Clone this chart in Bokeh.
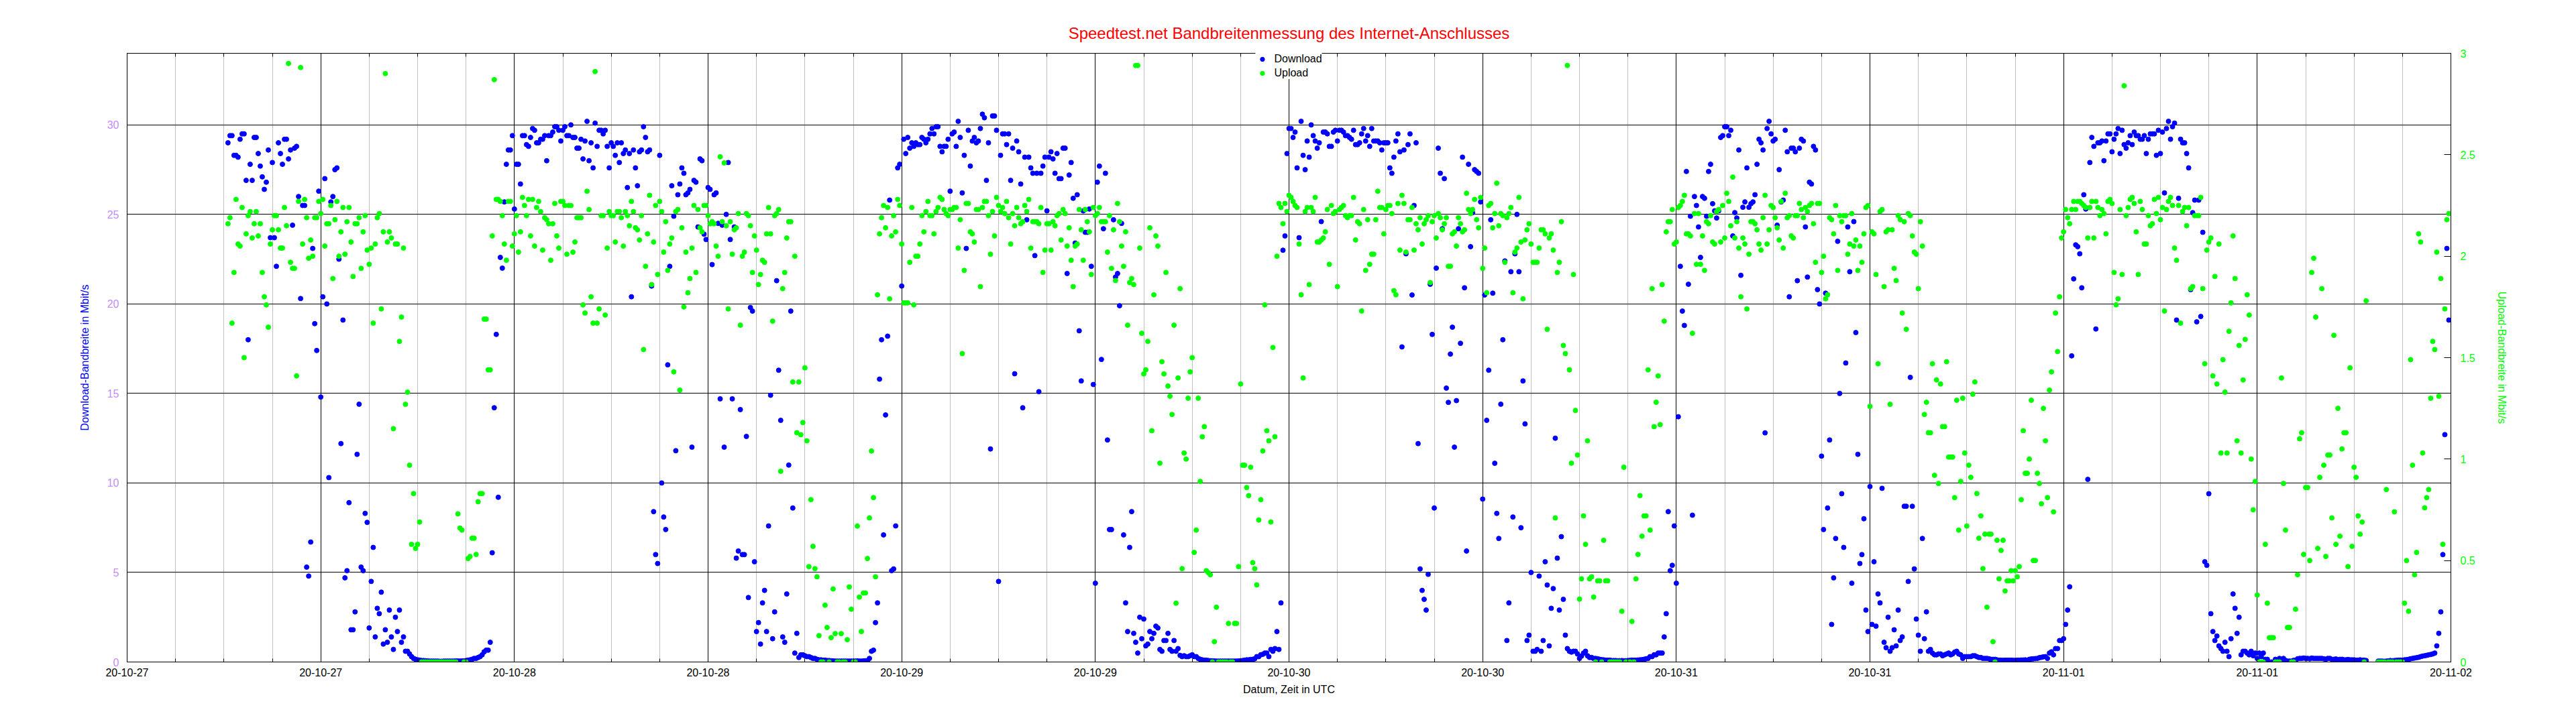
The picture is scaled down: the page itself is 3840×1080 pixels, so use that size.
import numpy as np
import pandas as pd
from datetime import datetime, timedelta
from bokeh.plotting import figure
from bokeh.models import (ColumnDataSource, Range1d, LinearAxis, DatetimeAxis, FixedTicker,
                          DatetimeTickFormatter, CustomJSTickFormatter)
from bokeh.embed import file_html
from bokeh.resources import INLINE

nan = float("nan")

TITLE = "Speedtest.net Bandbreitenmessung des Internet-Anschlusses"
X_LABEL = "Datum, Zeit in UTC"
Y_LABEL = "Download-Bandbreite in Mbit/s"
Y2_LABEL = "Upload-Bandbreite in Mbit/s"
SERIES = ["Download", "Upload"]
FIRST_SAMPLE = "2020-10-27 06:15:00"     # samples on the quarter hour
FIRST_SAMPLE_B = "2020-10-27 06:22:30"   # samples in between
SAMPLE_STEP = "15min"
X_START = datetime(2020, 10, 27)
X_END = datetime(2020, 11, 2)
Y_MAX = 34
Y2_MAX = 3
Y_TICKS = [0, 5, 10, 15, 20, 25, 30]
Y2_TICKS = [0, 0.5, 1, 1.5, 2, 2.5, 3]

# Download in Mbit/s, one row per hour (quarter-hour samples)
download = [
    29.0, 29.4, 28.3,
    29.2, 29.5, 18.0, 26.9,
    29.3, 27.7, 26.4, 28.6,
    27.9, 22.1, 28.4, 29.2,
    28.1, 24.4, 28.8, 20.3,
    25.5, 4.8, 23.1, 17.4,
    14.8, 27.0, 10.3, 26.0,
    27.6, 12.2, 4.7, 8.9,
    1.8, 11.6, 5.3, 8.3,
    1.9, 6.4, 3.0, 3.9,
    1.8, 2.9, 0.7, 1.7,
    1.1, 0.6, 0.45, 0.2,
    0.12, 0.08, 0.07, 0.05,
    0.05, 0.05, 0.04, 0.05,
    0.05, 0.05, 0.06, 0.06,
    0.08, 0.12, 0.2, 0.25,
    0.4, 0.66, 1.1, 14.2,
    9.2, 22.0, 27.8, 28.6,
    25.3, 27.8, 29.4, 28.9,
    29.3, 29.7, 29.0, 29.2,
    28.0, 29.4, 29.9, 29.7,
    29.7, 29.4, 30.0, 29.3,
    28.7, 28.1, 30.2, 29.0,
    30.1, 29.7, 29.5, 28.8,
    29.0, 28.3, 27.9, 28.4,
    26.5, 20.4, 27.6, 28.5,
    29.9, 28.5, 21.0, 6.0,
    28.3, 8.1, 16.6, 26.6,
    11.8, 26.7, 27.3, 26.2,
    12.0, 26.8, 28.1, 23.9,
    26.5, 22.2, 26.2, 14.7,
    12.0, 27.9, 14.7, 5.8,
    14.1, 6.0, 3.6, 19.6,
    1.7, 1.0, 4.0, 7.6,
    1.3, 21.3, 13.5, 1.1,
    11.0, 8.6, 1.6, 0.4,
    0.35, 0.3, 0.2, 0.15,
    0.12, 0.1, 0.08, 0.06,
    0.05, 0.05, 0.05, 0.05,
    0.05, 0.06, 0.05, 0.07,
    0.2, 0.66, 3.3, 18.0,
    13.8, 25.8, 5.2, 27.6,
    21.0, 28.4, 28.7, 28.8,
    28.9, 29.3, 29.0, 29.5,
    29.5, 29.9, 28.5, 28.8,
    26.3, 29.6, 30.2, 26.2,
    23.1, 27.7, 29.3, 29.1,
    30.6, 26.9, 11.9, 30.5,
    4.5, 29.5, 28.9, 26.9,
    16.1, 28.5, 14.2, 24.7,
    27.6, 22.7, 15.1, 27.7,
    25.2, 28.5, 27.3, 27.0,
    28.7, 21.7, 27.9, 23.4,
    18.5, 25.2, 24.0, 22.1,
    4.4, 27.7, 24.2, 12.4,
    7.4, 21.5, 19.9, 7.1,
    1.7, 8.4, 1.1, 2.5,
    2.4, 1.0, 1.3, 2.0,
    0.7, 1.2, 1.6, 0.6,
    0.6, 0.37, 0.35, 0.3,
    0.4, 0.3, 0.15, 0.1,
    0.08, 0.06, 0.05, 0.05,
    0.05, 0.05, 0.05, 0.05,
    0.07, 0.1, 0.12, 0.15,
    0.3, 0.4, 0.5, 0.3,
    0.6, 1.7, 3.3, 23.8,
    29.8, 29.3, 27.6, 30.2,
    27.5, 28.2, 29.4, 28.7,
    24.6, 29.6, 28.8, 29.6,
    29.1, 29.7, 29.4, 29.3,
    29.7, 28.9, 29.5, 29.1,
    28.8, 29.1, 29.1, 28.6,
    29.0, 27.6, 28.2, 29.5,
    17.6, 22.8, 29.5, 25.5,
    12.2, 4.0, 2.9, 21.1,
    8.6, 28.7, 24.2, 15.3,
    17.2, 12.0, 24.2, 28.2,
    6.2, 23.2, 27.5, 27.3,
    9.1, 13.5, 24.7, 11.1,
    6.9, 18.0, 1.2, 21.8,
    22.8, 21.8, 15.7, 1.2,
    5.0, 0.6, 4.8, 1.2,
    4.3, 3.0, 12.5, 2.9,
    3.5, 0.75, 0.55, 0.6,
    0.2, 0.5, 0.35, 0.25,
    0.2, 0.15, 0.12, 0.1,
    0.08, 0.08, 0.07, 0.07,
    0.08, 0.1, 0.1, 0.12,
    0.15, 0.2, 0.3, 0.4,
    0.5, 1.4, 8.4, 5.4,
    4.4, 22.1, 18.8, 21.1,
    8.2, 25.5, 22.6, 25.9,
    27.4, 25.6, 24.8, 29.3,
    29.9, 29.4, 23.8, 24.8,
    21.6, 25.7, 25.4, 25.7,
    27.8, 29.0, 12.8, 30.2,
    29.1, 24.4, 25.7, 29.7,
    20.4, 28.7, 21.3, 29.2,
    24.3, 26.8, 28.8, 20.8,
    11.5, 20.6, 12.4, 4.7,
    23.5, 9.4, 16.7, 21.8,
    24.6, 11.6, 6.0, 2.9,
    9.8, 5.6, 3.8, 9.7,
    0.8, 0.6, 1.8, 2.9,
    1.4, 8.7, 15.9, 5.2,
    1.5, 6.9, 2.8, 0.7,
    0.4, 0.45, 0.35, 0.45,
    0.4, 0.55, 0.45, 0.2,
    0.3, 0.3, 0.35, 0.25,
    0.2, 0.2, 0.15, 0.15,
    0.1, 0.09, 0.1, 0.1,
    0.09, 0.1, 0.11, 0.1,
    0.17, 0.19, 0.24, 0.29,
    0.2, 0.57, 0.75, 1.2,
    1.3, 2.9, 17.1, 23.3,
    22.8, 26.1, 10.2, 29.3,
    18.6, 29.0, 28.0, 29.5,
    28.5, 29.5, 28.4, 28.9,
    29.0, 28.9, 29.4, 29.2,
    29.4, 29.2, 29.5, 28.3,
    28.4, 26.2, 30.2, 29.9,
    19.1, 29.2, 29.0, 27.6,
    25.1, 19.0, 19.3, 5.6,
    9.4, 1.7, 1.45, 0.75,
    1.1, 0.3, 3.8, 1.6,
    0.4, 0.6, 0.4, 0.35,
    0.2, 0.3, 0.15, 0.0,
    0.0, 0.1, 0.13, 0.09,
    0.05, 0.09, 0.18, 0.2,
    0.2, 0.18, 0.2, 0.2,
    0.2, 0.15, 0.2, 0.15,
    0.12, 0.15, 0.12, 0.12,
    0.12, 0.1, 0.1, 0.08,
    nan, nan, 0.05, 0.05,
    0.05, 0.08, 0.08, 0.1,
    0.1, 0.13, 0.18, 0.22,
    0.26, 0.33, 0.37, 0.42,
    0.5, 1.6, 6.0, 23.1,
]

# Download in Mbit/s, samples between the quarter hours
download_between = [
    29.4, 28.3, 28.2,
    29.5, 26.9, 27.8, 29.3,
    28.4, 27.1, 26.8, 23.7,
    23.7, 29.0, 27.8, 29.2,
    28.6, 28.7, 26.0, 25.5,
    5.3, 6.7, 18.9, 26.3,
    20.4, 20.0, 25.7, 27.5,
    22.5, 19.1, 5.1, 1.8,
    2.8, 14.4, 5.1, 7.8,
    4.5, 1.4, 2.7, 1.0,
    1.1, 1.4, 2.5, 2.9,
    1.4, 0.6, 0.3, 0.15,
    0.1, 0.08, 0.06, 0.05,
    0.05, 0.04, 0.05, 0.05,
    0.05, 0.06, 0.05, 0.06,
    0.1, 0.15, 0.2, 0.3,
    0.57, 0.66, 6.1, 18.3,
    22.6, 25.7, 28.6, 29.4,
    27.8, 26.7, 29.4, 28.8,
    29.8, 29.0, 29.2, 29.4,
    29.4, 29.6, 29.9, 29.1,
    29.9, 29.4, 29.3, 28.7,
    29.2, 29.1, 28.0, 27.6,
    28.8, 29.7, 29.7, 27.6,
    28.8, 29.0, 29.0, 28.6,
    28.4, 28.6, 26.6, 28.6,
    29.3, 28.6, 8.4, 5.5,
    10.0, 7.4, 22.1, 24.9,
    26.1, 27.6, 26.1, 26.4,
    26.9, 24.3, 28.0, 23.6,
    26.4, 26.1, 24.5, 24.4,
    25.0, 23.6, 24.3, 6.2,
    6.0, 12.6, 19.8, 5.6,
    2.2, 3.3, 1.7, 14.9,
    2.8, 16.3, 1.4, 3.8,
    19.6, 0.5, 0.25, 0.4,
    0.3, 0.25, 0.2, 0.12,
    0.1, 0.08, 0.07, 0.05,
    0.05, 0.05, 0.05, 0.05,
    0.05, 0.05, 0.06, 0.07,
    0.6, 2.2, 15.8, 7.1,
    18.2, 5.1, 7.6, 27.8,
    29.2, 29.3, 29.0, 29.0,
    28.9, 29.2, 29.2, 29.8,
    29.9, 28.8, 28.8, 29.2,
    29.5, 28.8, 29.3, 28.3,
    29.7, 29.1, 29.0, 29.8,
    30.4, 29.0, 30.5, 29.7,
    28.3, 29.5, 29.5, 28.7,
    29.1, 26.7, 28.2, 28.2,
    27.3, 27.3, 27.3, 28.2,
    28.2, 28.1, 28.4, 27.0,
    28.7, 27.2, 25.9, 26.1,
    15.7, 24.0, 25.3, 15.5,
    26.8, 16.9, 27.3, 7.4,
    24.7, 21.7, 24.5, 3.3,
    6.4, 1.6, 0.5, 1.3,
    0.9, 1.7, 1.6, 1.9,
    0.6, 1.2, 0.7, 1.2,
    0.75, 0.3, 0.3, 0.35,
    0.3, 0.2, 0.12, 0.1,
    0.07, 0.06, 0.05, 0.05,
    0.05, 0.05, 0.05, 0.06,
    0.08, 0.12, 0.14, 0.18,
    0.3, 0.43, 0.5, 0.7,
    0.75, 0.7, 23.0, 28.4,
    29.8, 29.6, 23.7, 28.3,
    29.1, 30.0, 29.1, 29.0,
    29.6, 29.5, 28.8, 29.7,
    29.7, 29.6, 29.4, 29.2,
    28.9, 29.0, 29.8, 29.4,
    29.8, 29.1, 29.0, 29.0,
    29.0, 27.3, 29.1, 28.5,
    28.6, 28.9, 20.5, 29.0,
    5.2, 3.5, 4.9, 18.3,
    22.0, 27.3, 27.0, 14.5,
    18.7, 14.6, 17.8, 20.9,
    27.8, 25.1, 27.4, 25.7,
    20.5, 16.3, 20.6, 8.3,
    14.4, 22.4, 3.3, 8.1,
    25.0, 7.5, 13.3, 1.5,
    0.6, 0.7, 0.6, 5.6,
    0.9, 4.1, 5.8, 7.0,
    1.5, 0.6, 0.6, 0.45,
    0.33, 0.6, 0.25, 0.2,
    0.18, 0.13, 0.1, 0.1,
    0.08, 0.07, 0.08, 0.07,
    0.09, 0.1, 0.11, 0.13,
    0.18, 0.3, 0.4, 0.5,
    0.5, 2.7, 5.1, 7.6,
    13.7, 19.6, 27.4, 24.9,
    26.0, 24.3, 26.0, 24.9,
    27.8, 25.2, 25.2, 29.4,
    29.9, 29.7, 25.1, 28.6,
    25.4, 27.6, 25.6, 26.1,
    29.2, 28.6, 29.8, 29.5,
    29.2, 27.5, 25.8, 28.5,
    28.7, 28.5, 28.7, 29.1,
    21.5, 26.7, 28.6, 20.0,
    7.4, 8.6, 2.1, 6.9,
    15.0, 6.4, 24.3, 4.4,
    18.4, 5.5, 8.0, 1.7,
    2.1, 2.0, 3.3, 1.1,
    2.5, 0.8, 0.9, 1.2,
    8.7, 4.5, 8.7, 2.4,
    0.6, 1.3, 0.6, 0.5,
    0.4, 0.45, 0.4, 0.5,
    0.45, 0.6, 0.4, 0.3,
    0.3, 0.35, 0.3, 0.25,
    0.2, 0.18, 0.15, 0.12,
    0.1, 0.1, 0.1, 0.09,
    0.1, 0.11, 0.12, 0.15,
    0.18, 0.2, 0.26, 0.3,
    0.5, 0.4, 0.75, 1.2,
    2.1, 4.2, 21.4, 23.2,
    20.9, 25.3, 27.9, 28.8,
    29.0, 29.1, 29.1, 29.5,
    29.2, 29.8, 29.7, 28.7,
    29.4, 29.6, 29.4, 29.2,
    28.4, 29.5, 29.5, 29.7,
    29.6, 29.8, 29.2, 30.1,
    25.9, 29.0, 28.4, 20.8,
    25.8, 25.8, 24.0, 5.4,
    2.7, 1.2, 0.9, 0.6,
    0.6, 1.3, 3.0, 2.5,
    0.6, 0.5, 0.6, 0.5,
    0.5, 0.5, 0.15, 0.0,
    0.15, 0.2, 0.2, 0.05,
    0.05, 0.1, 0.2, 0.22,
    0.2, 0.22, 0.2, 0.2,
    0.18, 0.2, 0.15, 0.17,
    0.15, 0.12, 0.14, 0.12,
    0.1, 0.12, 0.1, nan,
    nan, nan, 0.05, 0.04,
    0.06, 0.07, 0.09, 0.1,
    0.12, 0.15, 0.2, 0.24,
    0.3, 0.35, 0.4, 0.45,
    0.9, 2.8, 12.7, 19.1,
]

# Upload in Mbit/s, quarter-hour samples
upload = [
    2.16, 1.67, 2.28,
    2.05, 1.50, 2.20, 2.09,
    2.22, 2.16, 1.80, 1.65,
    2.13, 2.20, 2.04, 2.24,
    2.95, 1.94, 1.41, 2.93,
    2.28, 1.99, 2.00, 2.19,
    2.21, 2.05, 2.16, 1.89,
    2.27, 2.12, 2.01, 2.24,
    1.90, 2.16, 1.94, 2.20,
    1.96, 1.67, 2.19, 1.74,
    2.90, 2.12, 1.15, 2.06,
    1.70, 1.27, 0.97, 0.83,
    0.58, 0.0, 0.0, 0.0,
    0.0, 0.0, 0.0, 0.0,
    0.0, 0.0, 0.73, 0.65,
    0.0, 0.52, 0.61, 0.79,
    0.83, 1.69, 1.44, 2.87,
    2.28, 2.20, 1.98, 2.27,
    2.11, 2.02, 2.29, 2.20,
    2.10, 2.05, 2.27, 2.03,
    2.18, 1.98, 2.26, 2.04,
    2.27, 2.01, 2.25, 2.07,
    2.19, 1.76, 2.32, 1.80,
    2.91, 1.74, 2.20, 2.04,
    2.20, 2.07, 2.22, 2.05,
    2.20, 2.27, 2.14, 2.08,
    1.54, 2.11, 1.86, 2.25,
    2.27, 2.02, 1.93, 2.09,
    2.22, 1.34, 1.75, 1.82,
    2.04, 1.92, 2.14, 2.25,
    2.20, 2.17, 2.05, 2.49,
    2.46, 1.74, 2.01, 2.14,
    1.66, 2.02, 2.20, 1.92,
    2.03, 1.91, 1.97, 2.24,
    1.68, 2.21, 0.94, 1.92,
    2.17, 1.38, 1.13, 1.12,
    1.45, 0.47, 0.57, 0.42,
    0.0, 0.28, 0.0, 0.36,
    0.0, 0.14, 0.0, 0.37,
    0.0, 0.67, 0.15, 0.34,
    0.71, 0.81, 1.81, 2.19,
    2.14, 1.79, 2.20, 2.28,
    2.06, 1.77, 1.97, 1.76,
    2.00, 2.20, 2.22, 2.20,
    2.11, 2.24, 2.28, 2.21,
    2.23, 2.24, 2.04, 1.52,
    2.26, 2.12, 2.07, 2.23,
    2.24, 2.27, 2.01, 2.10,
    2.25, 2.24, 2.27, 2.06,
    2.15, 2.19, 2.17, 2.22,
    2.04, 2.17, 2.16, 1.92,
    2.16, 2.03, 2.15, 2.21,
    2.23, 2.05, 1.98, 2.05,
    2.23, 1.98, 2.17, 1.91,
    2.20, 2.24, 2.17, 2.02,
    1.94, 1.88, 2.17, 1.95,
    1.66, 1.89, 2.94, 2.04,
    1.42, 1.58, 1.14, 2.10,
    0.98, 1.42, 1.36, 1.22,
    0.29, 1.84, 1.03, 1.30,
    1.50, 0.65, 0.89, 1.16,
    0.44, 0.0, 0.27, 0.0,
    0.0, 0.19, 0.0, 0.19,
    1.37, 0.97, 0.82, 0.49,
    0.38, 0.80, 1.76, 1.09,
    1.55, 2.00, 2.24, 2.26,
    2.30, 2.27, 2.24, 1.81,
    2.22, 1.86, 2.22, 2.07,
    2.08, 2.12, 1.96, 2.21,
    1.85, 2.24, 2.20, 2.20,
    2.29, 2.17, 1.73, 1.93,
    1.96, 2.01, 2.32, 2.24,
    2.23, 2.25, 1.83, 2.26,
    2.30, 2.02, 2.18, 2.03,
    2.13, 2.06, 2.18, 1.87,
    2.20, 2.21, 2.13, 2.19,
    1.95, 2.12, 2.19, 2.12,
    2.31, 2.21, 2.28, 2.14,
    1.94, 1.82, 2.26, 2.21,
    2.15, 2.20, 2.19, 2.24,
    2.02, 2.29, 1.79, 2.13,
    2.06, 1.97, 2.04, 2.13,
    1.64, 2.11, 0.71, 1.97,
    1.56, 2.94, 0.98, 1.24,
    0.31, 0.72, 1.09, 0.42,
    0.0, 0.40, 0.60, 0.40,
    0.0, 0.0, 0.0, 0.96,
    0.0, 0.2, 0.41, 0.82,
    0.72, 1.44, 1.84, 1.28,
    1.17, 1.68, 2.17, 2.23,
    2.07, 2.25, 2.30, 2.11,
    1.62, 1.96, 1.96, 1.93,
    2.16, 2.07, 2.22, 2.07,
    2.09, 2.27, 2.39, 2.17,
    1.80, 2.06, 2.01, 2.17,
    2.13, 2.03, 2.30, 2.13,
    2.24, 2.14, 2.27, 2.31,
    2.20, 2.09, 2.20, 2.23,
    2.24, 2.25, 2.16, 2.26,
    1.92, 1.79, 2.19, 2.11,
    1.93, 2.17, 2.20, 2.06,
    2.05, 1.93, 1.97, 2.24,
    1.26, 2.11, 1.47, 2.23,
    2.12, 1.27, 1.94, 2.20,
    1.72, 1.64, 2.20, 2.02,
    1.84, 2.05, 1.28, 1.13,
    0.92, 0.88, 1.16, 1.48,
    1.01, 0.81, 0.65, 1.30,
    0.67, 0.91, 1.38, 0.61,
    0.46, 0.27, 0.63, 0.0,
    0.41, 0.60, 0.40, 0.45,
    0.45, 0.47, 1.14, 0.93,
    1.29, 0.50, 0.88, 1.25,
    0.81, 1.43, 1.72, 1.80,
    2.12, 2.19, 2.23, 2.23,
    2.27, 2.25, 2.09, 2.27,
    2.27, 2.20, 2.21, 2.27,
    2.26, 1.76, 2.23, 2.84,
    2.24, 2.29, 2.12, 2.27,
    2.06, 2.20, 2.16, 2.21,
    2.18, 1.73, 2.27, 2.25,
    1.98, 1.67, 2.24, 2.24,
    1.85, 2.20, 2.29, 1.47,
    2.07, 1.41, 1.37, 1.03,
    1.33, 1.63, 2.10, 1.09,
    1.03, 1.59, 1.71, 0.75,
    0.33, 0.0, 0.58, 0.12,
    0.12, 0.0, 1.40, 0.65,
    0.17, 0.0, 0.43, 1.13,
    0.86, 0.50, 1.99, 0.56,
    1.84, 0.52, 1.02, 1.61,
    1.25, 1.05, 1.13, 1.45,
    0.96, 0.72, 0.69, 1.78,
    nan, nan, 0.0, 0.0,
    0.85, 0.0, 0.74, 0.0,
    0.0, 0.50, 1.49, 0.43,
    2.11, 1.03, 0.81, 1.30,
    1.54, 1.31, 0.58, 2.18,
]

# Upload in Mbit/s, samples between the quarter hours
upload_between = [
    2.19, 1.92, 2.06,
    2.24, 2.11, 2.22, 2.16,
    2.10, 1.92, 1.76, 2.06,
    2.20, 2.13, 2.04, 2.15,
    1.97, 1.94, 2.27, 2.06,
    2.19, 2.08, 2.19, 2.27,
    2.28, 2.16, 2.25, 2.18,
    2.00, 2.24, 2.17, 2.07,
    2.16, 2.19, 2.12, 2.03,
    2.04, 2.06, 2.21, 2.12,
    2.07, 2.09, 2.06, 1.58,
    2.04, 1.33, 0.58, 0.56,
    0.69, 0.0, 0.0, 0.0,
    0.0, 0.0, 0.0, 0.0,
    0.0, 0.0, 0.66, 0.0,
    0.51, 0.61, 0.53, 0.83,
    1.69, 1.44, 2.10, 2.28,
    2.27, 2.06, 2.27, 2.05,
    2.20, 2.12, 2.25, 2.28,
    2.28, 2.24, 2.22, 2.19,
    2.16, 2.16, 2.10, 2.27,
    2.25, 2.25, 2.02, 2.19,
    2.19, 1.72, 2.23, 1.67,
    1.67, 2.20, 1.71, 2.22,
    2.20, 2.22, 2.19, 2.22,
    2.15, 2.22, 2.13, 2.20,
    1.95, 2.30, 2.07, 1.91,
    2.22, 2.17, 2.06, 1.43,
    2.23, 2.14, 2.02, 1.89,
    2.25, 2.23, 2.12, 2.25,
    2.16, 2.16, 2.00, 2.17,
    2.15, 2.17, 2.13, 2.21,
    2.00, 2.21, 2.15, 2.10,
    1.86, 1.98, 2.11, 2.11,
    2.20, 2.23, 1.84, 2.09,
    2.17, 2.00, 1.38, 1.18,
    1.09, 0.80, 0.46, 0.13,
    0.0, 0.17, 0.12, 0.14,
    0.0, 0.0, 0.11, 0.26,
    0.0, 0.32, 0.34, 0.51,
    1.04, 0.42, 2.11, 2.25,
    2.24, 2.10, 2.12, 2.25,
    1.77, 1.77, 2.24, 2.00,
    2.06, 2.12, 2.27, 2.20,
    2.22, 2.29, 2.23, 2.20,
    2.23, 2.24, 2.18, 1.93,
    2.26, 2.11, 2.23, 1.85,
    2.27, 2.20, 2.22, 2.29,
    2.22, 2.21, 2.19, 2.21,
    2.24, 2.16, 2.25, 2.28,
    2.17, 2.17, 2.24, 2.03,
    2.16, 2.17, 2.20, 2.08,
    2.21, 2.14, 1.85, 2.06,
    2.13, 2.23, 2.12, 2.24,
    2.21, 2.17, 2.17, 2.20,
    2.13, 2.26, 2.05, 2.12,
    1.87, 1.86, 2.94, 1.62,
    1.44, 2.14, 1.81, 2.05,
    1.48, 1.92, 1.31, 1.66,
    1.40, 0.46, 1.00, 1.43,
    0.54, 1.30, 1.11, 0.45,
    0.43, 0.1, 0.0, 0.0,
    0.0, 0.0, 0.19, 0.47,
    0.97, 0.86, 0.96, 0.46,
    0.70, 1.04, 1.14, 0.69,
    1.11, 2.26, 2.16, 2.22,
    2.29, 2.25, 2.06, 1.40,
    2.24, 2.24, 2.29, 2.07,
    2.09, 2.23, 2.25, 2.22,
    2.23, 2.25, 2.19, 2.20,
    2.08, 2.16, 2.23, 2.18,
    2.01, 2.18, 2.24, 2.11,
    2.25, 2.21, 1.81, 2.03,
    2.26, 2.18, 2.24, 2.16,
    2.19, 2.16, 2.20, 2.17,
    2.09, 2.19, 2.16, 1.95,
    2.11, 2.05, 2.16, 2.13,
    2.23, 2.23, 2.18, 2.29,
    2.04, 2.25, 2.14, 2.36,
    2.21, 1.97, 2.21, 1.82,
    2.04, 2.07, 2.08, 2.16,
    1.97, 1.97, 2.13, 2.11,
    2.09, 2.03, 1.92, 2.17,
    1.52, 1.44, 1.91, 1.02,
    0.41, 0.58, 0.41, 0.32,
    0.40, 0.0, 0.40, 0.0,
    0.0, 0.0, 0.25, 0.0,
    0.0, 0.0, 0.53, 0.62,
    0.72, 0.65, 1.16, 1.41,
    1.86, 2.12, 2.17, 2.06,
    2.24, 2.27, 2.11, 2.10,
    2.21, 2.21, 2.10, 2.17,
    2.20, 2.06, 2.23, 2.25,
    2.31, 2.15, 2.09, 2.04,
    2.09, 1.74, 2.17, 2.16,
    2.06, 2.19, 2.06, 2.25,
    2.19, 2.08, 2.04, 2.19,
    2.10, 2.20, 2.26, 2.19,
    2.22, 2.26, 1.97, 2.26,
    2.00, 1.81, 2.18, 2.25,
    2.20, 2.20, 2.01, 2.21,
    2.08, 2.05, 2.11, 2.25,
    2.12, 1.91, 2.22, 1.85,
    2.13, 2.13, 1.88, 2.18,
    2.17, 2.21, 2.10, 2.01,
    2.17, 1.22, 1.13, 1.47,
    1.39, 1.37, 1.16, 1.01,
    1.01, 1.29, 0.89, 1.03,
    0.97, 1.32, 0.83, 0.72,
    0.63, 0.63, 0.1, 0.60,
    0.55, 0.35, 0.40, 0.40,
    0.42, 0.80, 0.93, 1.00,
    0.50, 0.93, 0.78, 1.09,
    1.34, 0.74, 1.53, 2.09,
    2.23, 2.16, 2.27, 2.27,
    2.26, 2.24, 2.24, 2.09,
    2.24, 2.23, 2.11, 2.28,
    1.92, 1.79, 1.91, 2.20,
    2.28, 2.26, 1.91, 2.23,
    2.06, 2.15, 2.28, 2.29,
    2.24, 2.23, 2.29, 2.04,
    2.25, 2.22, 2.15, 1.84,
    2.20, 2.20, 1.84, 2.03,
    2.09, 1.90, 2.06, 1.49,
    1.03, 1.77, 1.89, 1.56,
    1.39, 1.81, 1.00, 0.89,
    0.0, 0.0, 0.29, 0.12,
    0.0, 0.0, 0.88, 0.17,
    0.0, 0.26, 1.10, 0.53,
    0.86, 1.92, 1.70, 0.91,
    0.97, 1.02, 0.71, 0.58,
    0.62, 1.13, 0.47, 0.57,
    0.91, 0.63, 0.0, nan,
    nan, nan, 0.0, 0.0,
    0.0, 0.0, 0.0, 0.0,
    0.29, 0.25, 0.97, 0.54,
    2.07, 0.76, 0.85, 1.58,
    2.02, 1.89, 1.74, 2.21,
]

t_a = pd.date_range(FIRST_SAMPLE, periods=len(download), freq=SAMPLE_STEP)
t_b = pd.date_range(FIRST_SAMPLE_B, periods=len(download_between), freq=SAMPLE_STEP)
u_a = pd.date_range(FIRST_SAMPLE, periods=len(upload), freq=SAMPLE_STEP)
u_b = pd.date_range(FIRST_SAMPLE_B, periods=len(upload_between), freq=SAMPLE_STEP)

src_down = ColumnDataSource(dict(t=list(t_a) + list(t_b), v=download + download_between))
src_up = ColumnDataSource(dict(t=list(u_a) + list(u_b), v=upload + upload_between))

FONT = "Liberation Sans"
BLUE = "#0000ff"
GREEN = "#00ff00"
LILAC = "#c48cff"


def ms(dt):
    return (dt - datetime(1970, 1, 1)).total_seconds() * 1000.0


n_half_days = int((X_END - X_START).total_seconds() // (12 * 3600))
major_x = [ms(X_START + timedelta(hours=12 * i)) for i in range(n_half_days + 1)]
minor_x = [ms(X_START + timedelta(hours=3 * i)) for i in range(4 * n_half_days + 1)]
xticker = FixedTicker(ticks=major_x, minor_ticks=minor_x)

p = figure(width=3824, height=1064, x_axis_type="datetime",
           x_range=Range1d(X_START, X_END), y_range=Range1d(0, Y_MAX),
           output_backend="svg", toolbar_location=None, title=TITLE,
           min_border_left=189, min_border_right=171,
           min_border_top=79, min_border_bottom=77)
p.extra_y_ranges = {"up": Range1d(0, Y2_MAX)}
p.background_fill_color = "white"
p.border_fill_color = "white"
p.outline_line_color = "black"
p.outline_line_alpha = 1.0
p.outline_line_width = 1

p.title.text_font = FONT
p.title.text_font_size = "24px"
p.title.text_font_style = "normal"
p.title.text_color = "#ff0000"
p.title.align = "center"
p.title.standoff = 34

# bottom axis
xa = p.below[0]
xa.ticker = xticker
fmt = "%y-%m-%d"
xa.formatter = DatetimeTickFormatter(microseconds=fmt, milliseconds=fmt, seconds=fmt,
                                     minsec=fmt, minutes=fmt, hourmin=fmt, hours=fmt,
                                     days=fmt, months=fmt, years=fmt)
xa.axis_label = X_LABEL
xa.axis_label_text_font = FONT
xa.axis_label_text_font_size = "16px"
xa.axis_label_text_font_style = "normal"
xa.axis_label_text_color = "black"
xa.axis_label_standoff = 8
xa.major_label_text_font = FONT
xa.major_label_text_font_size = "16px"
xa.major_label_text_color = "black"
xa.major_label_standoff = 9
xa.major_tick_in = 0
xa.major_tick_out = 0
xa.minor_tick_in = 5
xa.minor_tick_out = 0
xa.minor_tick_line_color = "black"
xa.axis_line_color = "black"

# left axis
ya = p.left[0]
ya.ticker = FixedTicker(ticks=Y_TICKS)
ya.axis_label = Y_LABEL
ya.axis_label_text_font = FONT
ya.axis_label_text_font_size = "16px"
ya.axis_label_text_font_style = "normal"
ya.axis_label_text_color = BLUE
ya.axis_label_standoff = 22
ya.major_label_text_font = FONT
ya.major_label_text_font_size = "16px"
ya.major_label_text_color = LILAC
ya.major_label_standoff = 12
ya.major_tick_in = 0
ya.major_tick_out = 0
ya.minor_tick_line_color = None
ya.axis_line_color = "black"

# right axis (upload)
ra = LinearAxis(y_range_name="up", ticker=FixedTicker(ticks=Y2_TICKS),
                axis_label=Y2_LABEL)
ra.axis_label_text_font = FONT
ra.axis_label_text_font_size = "16px"
ra.axis_label_text_font_style = "normal"
ra.axis_label_text_color = GREEN
ra.axis_label_standoff = 28
ra.major_label_text_font = FONT
ra.major_label_text_font_size = "16px"
ra.major_label_text_color = GREEN
ra.major_label_standoff = 14
ra.major_tick_in = 10
ra.major_tick_out = 0
ra.major_tick_line_color = "black"
ra.minor_tick_line_color = None
ra.axis_line_color = "black"
p.add_layout(ra, "right")

# top border: mirrored minor ticks only
ta = DatetimeAxis(ticker=xticker, formatter=CustomJSTickFormatter(code="return ''"))
ta.major_tick_in = 0
ta.major_tick_out = 0
ta.minor_tick_in = 5
ta.minor_tick_out = 0
ta.minor_tick_line_color = "black"
ta.major_label_standoff = 0
ta.axis_line_color = "black"
p.add_layout(ta, "above")

# grids
p.xgrid.ticker = xticker
p.xgrid.grid_line_color = "black"
p.xgrid.grid_line_alpha = 1.0
p.xgrid.minor_grid_line_color = "#bebebe"
p.xgrid.minor_grid_line_alpha = 1.0
p.ygrid.ticker = FixedTicker(ticks=Y_TICKS)
p.ygrid.grid_line_color = "black"
p.ygrid.grid_line_alpha = 1.0

p.scatter("t", "v", source=src_down, marker="circle", size=7, color=BLUE,
          legend_label=SERIES[0])
p.scatter("t", "v", source=src_up, marker="circle", size=7, color=GREEN,
          y_range_name="up", legend_label=SERIES[1])

lg = p.legend[0]
lg.location = "top_center"
lg.margin = 0
lg.padding = 8
lg.spacing = 3
lg.border_line_color = None
lg.background_fill_color = "white"
lg.background_fill_alpha = 1.0
lg.label_text_font = FONT
lg.label_text_font_size = "16px"
lg.label_text_color = "black"
lg.label_height = 16
lg.glyph_height = 16
lg.glyph_width = 20
lg.label_standoff = 8

open("out.html", "w").write(file_html(p, INLINE))
